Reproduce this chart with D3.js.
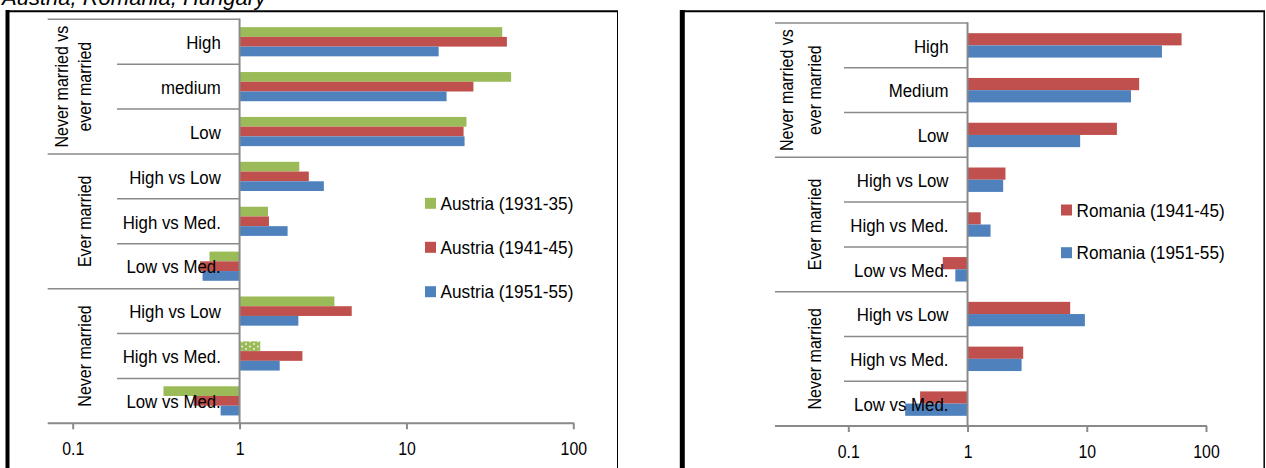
<!DOCTYPE html>
<html>
<head>
<meta charset="utf-8">
<script src="https://cdn.jsdelivr.net/npm/d3@7"></script>
<style>
  body { margin: 0; background: #fff; }
  text { font-family: "Liberation Sans", Arial, sans-serif; fill: #000; }
</style>
</head>
<body>
<div class="chart-container"></div>
<script>
var w = 1266;
var h = 468;

// category labels, top to bottom
var austriaCats = ["High", "medium", "Low", "High vs Low", "High vs Med.", "Low vs Med.", "High vs Low", "High vs Med.", "Low vs Med."];
var romaniaCats = ["High", "Medium", "Low", "High vs Low", "High vs Med.", "Low vs Med.", "High vs Low", "High vs Med.", "Low vs Med."];
var groupLabels = [["Never married vs", "ever married"], ["Ever married"], ["Never married"]];
var groupSizes = [3, 3, 3];

var tickValues = [0.1, 1, 10, 100];

// values (ratios, log scale)
var austria1931 = [37.5, 42.4, 22.9, 2.28, 1.48, 0.66, 3.7, 1.33, 0.35];
var austria1941 = [40, 25.2, 22, 2.6, 1.5, 0.58, 4.7, 2.38, 0.53];
var austria1951 = [15.6, 17.4, 22.3, 3.2, 1.94, 0.6, 2.25, 1.74, 0.77];
var romania1941 = [62.4, 27.5, 17.9, 2.08, 1.29, 0.62, 7.26, 2.93, 0.40];
var romania1951 = [42.7, 23.5, 8.8, 1.99, 1.56, 0.79, 9.64, 2.84, 0.30];

var green = "#9bbb59", red = "#c0504d", blue = "#4f81bd";
var gridColor = "#8a8a8a";

var svg = d3.select(".chart-container")
            .append("svg")
            .attr("width", w)
            .attr("height", h);

// dotted fill used by one bar
var pat = svg.append("defs").append("pattern")
             .attr("id", "dots")
             .attr("patternUnits", "userSpaceOnUse")
             .attr("width", 8).attr("height", 5);
pat.append("rect").attr("width", 8).attr("height", 5).attr("fill", green);
pat.append("circle").attr("cx", 2).attr("cy", 1.5).attr("r", 1).attr("fill", "#fff").attr("opacity", 0.8);
pat.append("circle").attr("cx", 6).attr("cy", 4).attr("r", 1).attr("fill", "#fff").attr("opacity", 0.8);

// the original text is a bit condensed
function narrowText(sel, x, y, size, sx, rot) {
    return sel.append("text")
              .attr("transform", "translate(" + x + "," + y + ")" + (rot ? " rotate(" + rot + ")" : "") + " scale(" + sx + ",1)")
              .style("font-size", size + "px");
}

// title (cut off at the top)
svg.append("text")
   .attr("x", 2).attr("y", 5)
   .style("font-size", "22px")
   .style("font-style", "italic")
   .text("Austria, Romania, Hungary");

// panel frames
svg.append("line").attr("x1", 7.5).attr("x2", 7.5).attr("y1", 10).attr("y2", h).attr("stroke", "#000").attr("stroke-width", 4);
svg.append("line").attr("x1", 6).attr("x2", 618).attr("y1", 11.3).attr("y2", 11.3).attr("stroke", "#000").attr("stroke-width", 2);
svg.append("line").attr("x1", 617.5).attr("x2", 617.5).attr("y1", 11).attr("y2", h).attr("stroke", "#000").attr("stroke-width", 1);

svg.append("line").attr("x1", 682.3).attr("x2", 682.3).attr("y1", 10).attr("y2", h).attr("stroke", "#000").attr("stroke-width", 5);
svg.append("line").attr("x1", 680).attr("x2", 1265).attr("y1", 11.2).attr("y2", 11.2).attr("stroke", "#000").attr("stroke-width", 2);
svg.append("line").attr("x1", 1264.2).attr("x2", 1264.2).attr("y1", 11).attr("y2", h).attr("stroke", "#000").attr("stroke-width", 1.5);

function drawPanel(opt) {
    var x = d3.scaleLog().domain([0.1, 100]).range(opt.xRange);
    var idx = d3.range(opt.cats.length);
    var y = d3.scaleBand().domain(idx).range(opt.yRange).paddingInner(0).paddingOuter(0);
    var bw = y.bandwidth() * opt.fill;
    var bh = bw / opt.series.length;
    var off = (y.bandwidth() - bw) / 2;
    var x1 = x(1);
    var y0 = opt.yRange[0], y1 = opt.yRange[1];
    var g = svg.append("g");

    // bars
    opt.series.forEach(function(s, si) {
        g.selectAll(null)
         .data(s.values)
         .enter()
         .append("rect")
         .attr("x", function(d) { return Math.min(x(d), x1); })
         .attr("width", function(d) { return Math.abs(x(d) - x1); })
         .attr("y", function(d, i) { return y(i) + off + si * bh; })
         .attr("height", bh)
         .attr("fill", function(d, i) {
             if (opt.dotted && opt.dotted[0] === si && opt.dotted[1] === i) return "url(#dots)";
             return s.color;
         });
    });

    // category grid: separators
    var starts = [0];
    groupSizes.forEach(function(n, k) { starts.push(starts[k] + n); });
    idx.forEach(function(i) {
        var isGroup = starts.indexOf(i) >= 0;
        g.append("line")
         .attr("x1", isGroup ? opt.outerLeft : opt.innerLeft)
         .attr("x2", x1)
         .attr("y1", y(i)).attr("y2", y(i))
         .attr("stroke", gridColor).attr("stroke-width", 1.5);
    });

    // category axis line at 1
    g.append("line")
     .attr("x1", x1).attr("x2", x1)
     .attr("y1", y0 - 0.7).attr("y2", y1)
     .attr("stroke", gridColor).attr("stroke-width", 2);

    // bottom value axis
    var xAxis = d3.axisBottom(x)
                  .tickValues(tickValues)
                  .tickFormat(function(d) { return d; })
                  .tickSize(6)
                  .tickPadding(13);
    var ax = g.append("g")
              .attr("transform", "translate(0," + y1 + ")")
              .call(xAxis);
    ax.select(".domain").remove();
    ax.selectAll(".tick line").attr("stroke", gridColor).attr("stroke-width", 2);
    ax.selectAll(".tick text")
      .style("font-size", "18px").attr("fill", "#000")
      .style("font-family", "'Liberation Sans', Arial, sans-serif")
      .attr("transform", "scale(0.88,1)");
    g.append("line")
     .attr("x1", opt.outerLeft).attr("x2", x(100) + 1)
     .attr("y1", y1).attr("y2", y1)
     .attr("stroke", gridColor).attr("stroke-width", 2);

    // inner labels
    opt.cats.forEach(function(c, i) {
        narrowText(g, opt.labelX, y(i) + y.bandwidth() / 2 + 1, 18.5, 0.91)
            .attr("text-anchor", "end")
            .attr("dominant-baseline", "central")
            .text(c);
    });

    // outer (group) labels, rotated
    groupLabels.forEach(function(lines, k) {
        var cy = (y(starts[k]) + y(starts[k + 1] - 1) + y.bandwidth()) / 2;
        lines.forEach(function(t, li) {
            var cx = lines.length === 1 ? opt.outerX[1] : opt.outerX[li];
            narrowText(g, cx, cy, 18, 0.89, -90)
             .attr("text-anchor", "middle")
             .attr("dominant-baseline", "central")
             .text(t);
        });
    });

    // legend
    opt.series.forEach(function(s, si) {
        var ly = opt.legendY[si];
        g.append("rect")
         .attr("x", opt.legendX).attr("y", ly - 5.5)
         .attr("width", 11).attr("height", 11)
         .attr("fill", s.color);
        narrowText(g, opt.legendX + 15.5, ly + 0.5, 18.5, 0.93)
         .attr("dominant-baseline", "central")
         .text(s.name);
    });
}

drawPanel({
    cats: austriaCats,
    series: [
        {name: "Austria (1931-35)", values: austria1931, color: green},
        {name: "Austria (1941-45)", values: austria1941, color: red},
        {name: "Austria (1951-55)", values: austria1951, color: blue}
    ],
    dotted: [0, 7],
    xRange: [72.7, 573.3],
    yRange: [19.3, 423.3],
    fill: 0.65,
    labelX: 220.8,
    innerLeft: 117,
    outerLeft: 47.7,
    outerX: [62, 85.5],
    legendX: 425,
    legendY: [203.3, 247.3, 291.7]
});

drawPanel({
    cats: romaniaCats,
    series: [
        {name: "Romania (1941-45)", values: romania1941, color: red},
        {name: "Romania (1951-55)", values: romania1951, color: blue}
    ],
    xRange: [848.3, 1206],
    yRange: [23, 426],
    fill: 0.545,
    labelX: 948.5,
    innerLeft: 844,
    outerLeft: 775,
    outerX: [787, 815],
    legendX: 1061,
    legendY: [210, 252.7]
});
</script>
</body>
</html>
